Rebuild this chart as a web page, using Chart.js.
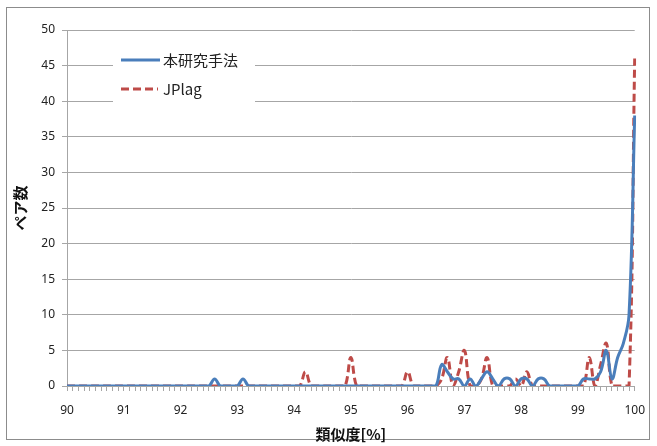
<!DOCTYPE html>
<html>
<head>
<meta charset="utf-8">
<script src="https://cdn.jsdelivr.net/npm/chart.js@4/dist/chart.umd.min.js"></script>
<style>
  body { margin: 0; background: #fff; }
  #wrap { width: 657px; height: 446px; position: relative; }
</style>
</head>
<body>
<div id="wrap"><canvas id="chart"></canvas></div>
<script>
// Similarity [%] categories, 0.1 steps from 90.0 to 100.0
const categories = [
  '90.0','90.1','90.2','90.3','90.4','90.5','90.6','90.7','90.8','90.9',
  '91.0','91.1','91.2','91.3','91.4','91.5','91.6','91.7','91.8','91.9',
  '92.0','92.1','92.2','92.3','92.4','92.5','92.6','92.7','92.8','92.9',
  '93.0','93.1','93.2','93.3','93.4','93.5','93.6','93.7','93.8','93.9',
  '94.0','94.1','94.2','94.3','94.4','94.5','94.6','94.7','94.8','94.9',
  '95.0','95.1','95.2','95.3','95.4','95.5','95.6','95.7','95.8','95.9',
  '96.0','96.1','96.2','96.3','96.4','96.5','96.6','96.7','96.8','96.9',
  '97.0','97.1','97.2','97.3','97.4','97.5','97.6','97.7','97.8','97.9',
  '98.0','98.1','98.2','98.3','98.4','98.5','98.6','98.7','98.8','98.9',
  '99.0','99.1','99.2','99.3','99.4','99.5','99.6','99.7','99.8','99.9',
  '100.0'
];

// tick labels shown under the x axis (every 10th category)
const xTickLabels = ['90','91','92','93','94','95','96','97','98','99','100'];

// pair counts, 本研究手法
const proposedValues = [
  0,0,0,0,0,0,0,0,0,0,
  0,0,0,0,0,0,0,0,0,0,
  0,0,0,0,0,0,1,0,0,0,
  0,1,0,0,0,0,0,0,0,0,
  0,0,0,0,0,0,0,0,0,0,
  0,0,0,0,0,0,0,0,0,0,
  0,0,0,0,0,0,3,2,1,1,
  0,1,0,1,2,1,0,1,1,0,
  1,1,0,1,1,0,0,0,0,0,
  0,1,1,1,2,5,1,4,6,10,
  38
];

// pair counts, JPlag
const jplagValues = [
  0,0,0,0,0,0,0,0,0,0,
  0,0,0,0,0,0,0,0,0,0,
  0,0,0,0,0,0,0,0,0,0,
  0,0,0,0,0,0,0,0,0,0,
  0,0,2,0,0,0,0,0,0,0,
  4,0,0,0,0,0,0,0,0,0,
  2,0,0,0,0,0,1,4,0,2,
  5,0,0,1,4,0,0,0,0,1,
  0,2,0,0,0,0,0,0,0,0,
  0,0,4,0,3,6,0,0,0,0,
  46
];

const seriesNames = ['本研究手法', 'JPlag'];

const BLUE = '#4a7ebb';
const RED = '#be4b48';
const GRID = '#a6a6a6';

// outer frame around the whole chart
const framePlugin = {
  id: 'frame',
  beforeDraw(chart) {
    const ctx = chart.ctx;
    ctx.save();
    ctx.fillStyle = '#fff';
    ctx.fillRect(0, 0, chart.width, chart.height);
    ctx.strokeStyle = '#8c8c8c';
    ctx.lineWidth = 1;
    ctx.strokeRect(6.5, 7.5, 643, 432);
    ctx.restore();
  }
};

// legend box sitting inside the plot area, top left
const innerLegend = {
  id: 'innerLegend',
  afterDraw(chart) {
    const ctx = chart.ctx;
    const x = 113, y = 40;
    ctx.save();
    ctx.fillStyle = '#fff';
    ctx.fillRect(x, y, 142, 66);

    ctx.lineWidth = 3;
    ctx.strokeStyle = BLUE;
    ctx.beginPath();
    ctx.moveTo(x + 8, y + 20);
    ctx.lineTo(x + 47, y + 20);
    ctx.stroke();

    ctx.strokeStyle = RED;
    ctx.setLineDash([8, 4]);
    ctx.beginPath();
    ctx.moveTo(x + 8, y + 49);
    ctx.lineTo(x + 45, y + 49);
    ctx.stroke();
    ctx.setLineDash([]);

    ctx.fillStyle = '#222';
    ctx.textBaseline = 'middle';
    ctx.font = '15px "Noto Sans CJK JP", "Noto Sans", sans-serif';
    ctx.fillText(seriesNames[0], x + 50, y + 20);
    ctx.fillText(seriesNames[1], x + 50, y + 49);
    ctx.restore();
  }
};

new Chart(document.getElementById('chart'), {
  type: 'line',
  data: {
    labels: categories,
    datasets: [{
      label: seriesNames[0],
      data: proposedValues,
      borderColor: BLUE,
      borderWidth: 3,
      pointRadius: 0,
      tension: 0.4,
      fill: false
    }, {
      label: seriesNames[1],
      data: jplagValues,
      borderColor: RED,
      borderWidth: 3,
      borderDash: [8, 4],
      pointRadius: 0,
      tension: 0.4,
      fill: false
    }]
  },
  options: {
    responsive: true,
    maintainAspectRatio: false,
    animation: false,
    layout: { padding: { top: 30, right: 21, bottom: 0, left: 0 } },
    plugins: {
      legend: { display: false },
      tooltip: { enabled: false }
    },
    scales: {
      x: {
        type: 'category',
        offset: false,
        afterFit(scale) { scale.height = 60; },
        grid: {
          drawOnChartArea: false,
          drawTicks: true,
          tickLength: 5,
          color: GRID
        },
        border: { color: GRID },
        ticks: {
          autoSkip: false,
          maxRotation: 0,
          padding: 12,
          color: '#222',
          font: { family: '"Noto Sans", sans-serif', size: 12 },
          callback: (val, i) => (i % 10 === 0 ? xTickLabels[i / 10] : '')
        },
        title: {
          display: true,
          text: '類似度[%]',
          color: '#111',
          font: { family: '"Noto Sans CJK JP", sans-serif', size: 15, weight: 'bold' },
          padding: { top: 0, bottom: 3 }
        }
      },
      y: {
        min: 0,
        max: 50,
        afterFit(scale) { scale.width = 67; },
        grid: {
          color: GRID,
          tickLength: 5
        },
        border: { color: GRID },
        ticks: {
          stepSize: 5,
          padding: 7,
          color: '#222',
          font: { family: '"Noto Sans", sans-serif', size: 12 }
        },
        title: {
          display: true,
          text: 'ペア数',
          color: '#111',
          font: { family: '"Noto Sans CJK JP", sans-serif', size: 15, weight: 'bold' },
          padding: { top: 11, bottom: 0 }
        }
      }
    }
  },
  plugins: [framePlugin, innerLegend]
});
</script>
</body>
</html>
